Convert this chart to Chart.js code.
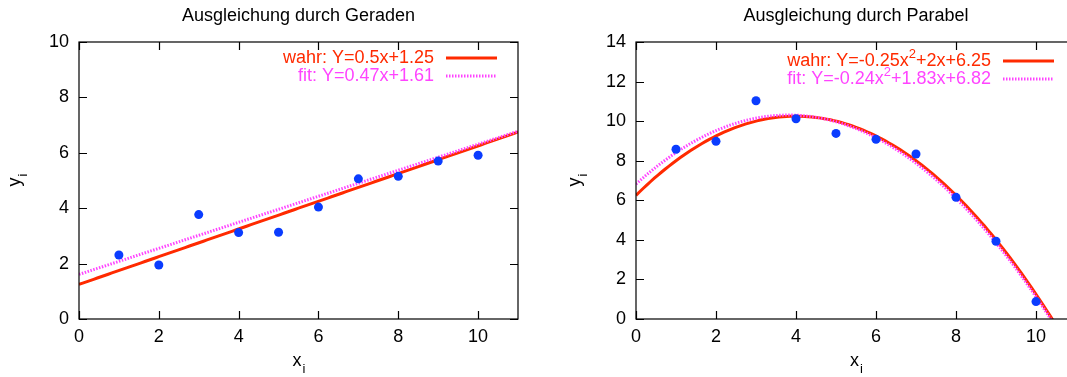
<!DOCTYPE html>
<html>
<head>
<meta charset="utf-8">
<script src="https://cdn.jsdelivr.net/npm/chart.js@4.4.1/dist/chart.umd.min.js"></script>
<style>
    html, body { margin: 0; padding: 0; background: #fff; overflow: hidden; width: 1067px; height: 377px; }
    canvas { position: absolute; top: 0; }
    #lineChart { left: 0; }
    #parabolaChart { left: 533px; }
</style>
</head>
<body>
<canvas id="lineChart" width="533" height="377"></canvas>
<canvas id="parabolaChart" width="560" height="377"></canvas>
<script>
// measured points
const xValues = [1, 2, 3, 4, 5, 6, 7, 8, 9, 10];
const lineValues = [2.31, 1.95, 3.77, 3.12, 3.13, 4.04, 5.06, 5.15, 5.70, 5.91];
const parabolaValues = [8.58, 8.98, 11.03, 10.12, 9.38, 9.08, 8.34, 6.15, 3.93, 0.88];

// polynomial coefficients [c0, c1, c2] as given in the legends
const lineTrue = [1.25, 0.5];
const lineFit = [1.61, 0.47];
const parabolaTrue = [6.25, 2, -0.25];
const parabolaFit = [6.82, 1.83, -0.24];

const xTicks = [0, 2, 4, 6, 8, 10];
const titles = ["Ausgleichung durch Geraden", "Ausgleichung durch Parabel"];
const trueLabels = ["wahr: Y=0.5x+1.25", "wahr: Y=-0.25x^2+2x+6.25"];
const fitLabels = ["fit: Y=0.47x+1.61", "fit: Y=-0.24x^2+1.83x+6.82"];

const FONT = '"Liberation Sans", Arial, Helvetica, sans-serif';
const RED = "#ff2a00";
const MAGENTA = "#ff44ff";
const BLUE = "#0a3cff";

function curve(coeffs, xMax) {
    const pts = [];
    for (let i = 0; i <= 120; i++) {
        const x = xMax * i / 120;
        let y = 0;
        coeffs.forEach((c, k) => { y += c * Math.pow(x, k); });
        pts.push({ x, y });
    }
    return pts;
}

// text with "^2" superscripts, right aligned
function drawRich(ctx, text, xRight, y) {
    const parts = text.split(/\^(\d)/);
    const big = "18px " + FONT, small = "13px " + FONT;
    let width = 0;
    parts.forEach((p, i) => {
        ctx.font = i % 2 ? small : big;
        width += ctx.measureText(p).width;
    });
    let x = xRight - width;
    parts.forEach((p, i) => {
        ctx.font = i % 2 ? small : big;
        ctx.fillText(p, x, i % 2 ? y - 7 : y);
        x += ctx.measureText(p).width;
    });
}

const framePlugin = {
    id: "frame",
    afterDraw(chart, args, opts) {
        const { ctx, chartArea: { left, right, top, bottom }, scales: { x, y } } = chart;
        ctx.save();

        ctx.strokeStyle = "#000";
        ctx.lineWidth = 1.2;
        ctx.strokeRect(left, top, right - left, bottom - top);
        ctx.beginPath();
        x.ticks.forEach(t => {
            const px = Math.round(x.getPixelForValue(t.value)) + 0.5;
            ctx.moveTo(px, bottom); ctx.lineTo(px, bottom - 8);
            ctx.moveTo(px, top); ctx.lineTo(px, top + 8);
        });
        y.ticks.forEach(t => {
            const py = Math.round(y.getPixelForValue(t.value)) + 0.5;
            ctx.moveTo(left, py); ctx.lineTo(left + 8, py);
            ctx.moveTo(right, py); ctx.lineTo(right - 8, py);
        });
        ctx.stroke();

        // title and axis titles
        const cx = (left + right) / 2;
        ctx.fillStyle = "#000";
        ctx.textBaseline = "middle";
        ctx.textAlign = "center";
        ctx.font = "18px " + FONT;
        ctx.fillText(opts.title, cx, 16);

        ctx.textAlign = "left";
        ctx.fillText("x", cx - 6, 361);
        ctx.font = "13px " + FONT;
        ctx.fillText("i", cx + 4, 369);

        ctx.save();
        ctx.translate(opts.yTitleX, (top + bottom) / 2);
        ctx.rotate(-Math.PI / 2);
        ctx.font = "18px " + FONT;
        ctx.fillText("y", -6, 0);
        ctx.font = "13px " + FONT;
        ctx.fillText("i", 4, 8);
        ctx.restore();

        // key
        ctx.textAlign = "left";
        ctx.textBaseline = "middle";
        opts.key.forEach((row, i) => {
            const ky = opts.keyY + i * 18;
            ctx.fillStyle = row.color;
            drawRich(ctx, row.label, opts.keyTextRight, ky);
            ctx.beginPath();
            ctx.strokeStyle = row.color;
            ctx.lineWidth = 3;
            ctx.setLineDash(row.dash);
            ctx.moveTo(opts.keyTextRight + 12, ky);
            ctx.lineTo(opts.keyTextRight + 63, ky);
            ctx.stroke();
            ctx.setLineDash([]);
        });

        ctx.restore();
    }
};

function makeChart(id, cfg) {
    const canvas = document.getElementById(id);
    const points = xValues.map((x, i) => ({ x, y: cfg.values[i] }));

    new Chart(canvas.getContext("2d"), {
        type: "scatter",
        data: {
            datasets: [{
                data: points,
                order: 0,
                pointRadius: 4.5,
                pointBackgroundColor: BLUE,
                pointBorderWidth: 0
            }, {
                type: "line",
                data: curve(cfg.fit, 11),
                order: 1,
                borderColor: MAGENTA,
                borderWidth: 3,
                borderDash: [1.5, 1.5],
                pointRadius: 0,
                tension: 0
            }, {
                type: "line",
                data: curve(cfg.truth, 11),
                order: 2,
                borderColor: RED,
                borderWidth: 3,
                pointRadius: 0,
                tension: 0
            }]
        },
        options: {
            responsive: false,
            animation: false,
            events: [],
            layout: { padding: { left: 0, top: 42, right: cfg.padRight, bottom: 0 } },

            scales: {
                x: {
                    type: "linear",
                    min: 0,
                    max: 11,
                    afterFit: axis => { axis.height = 58; },
                    afterBuildTicks: axis => {
                        axis.ticks = xTicks.map(v => ({ value: v }));
                    },
                    grid: { display: false, drawTicks: false },
                    border: { display: false },
                    ticks: {
                        padding: 7,
                        color: "#000",
                        font: { family: FONT, size: 18 }
                    }
                },
                y: {
                    min: 0,
                    max: cfg.yMax,
                    afterFit: axis => { axis.width = cfg.plotLeft; },
                    grid: { display: false, drawTicks: false },
                    border: { display: false },
                    ticks: {
                        stepSize: 2,
                        padding: 10,
                        color: "#000",
                        font: { family: FONT, size: 18 }
                    }
                }
            },

            plugins: {
                legend: { display: false },
                tooltip: { enabled: false },
                frame: {
                    title: cfg.title,
                    yTitleX: cfg.yTitleX,
                    keyY: cfg.keyY,
                    keyTextRight: cfg.keyTextRight,
                    key: [
                        { label: cfg.trueLabel, color: RED, dash: [] },
                        { label: cfg.fitLabel, color: MAGENTA, dash: [1.5, 1.5] }
                    ]
                }
            }
        },
        plugins: [framePlugin]
    });
}

makeChart("lineChart", {
    values: lineValues,
    truth: lineTrue,
    fit: lineFit,
    yMax: 10,
    plotLeft: 79,
    padRight: 15,
    yTitleX: 15,
    keyY: 58,
    keyTextRight: 434,
    title: titles[0],
    trueLabel: trueLabels[0],
    fitLabel: fitLabels[0]
});

makeChart("parabolaChart", {
    values: parabolaValues,
    truth: parabolaTrue,
    fit: parabolaFit,
    yMax: 14,
    plotLeft: 103,
    padRight: 17,
    yTitleX: 42,
    keyY: 61,
    keyTextRight: 991 - 533,
    title: titles[1],
    trueLabel: trueLabels[1],
    fitLabel: fitLabels[1]
});
</script>
</body>
</html>
